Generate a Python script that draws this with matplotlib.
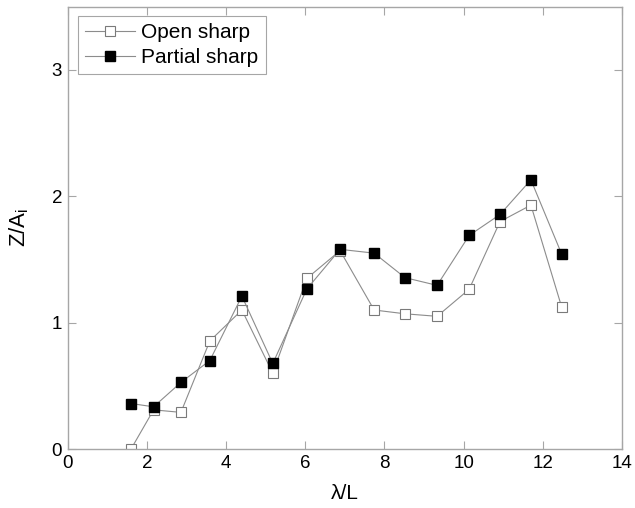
import matplotlib.pyplot as plt

plt.rcParams['font.family'] = ['Liberation Sans', 'DejaVu Sans']

# lambda/L positions
x_vals = [1.60, 2.17, 2.86, 3.59, 4.40, 5.18, 6.04, 6.88, 7.74, 8.52, 9.33, 10.14, 10.92, 11.70, 12.48]

open_sharp = [0.00, 0.31, 0.29, 0.855, 1.10, 0.60, 1.35, 1.57, 1.10, 1.07, 1.05, 1.264, 1.80, 1.93, 1.12]
partial_sharp = [0.36, 0.334, 0.527, 0.70, 1.21, 0.677, 1.266, 1.58, 1.55, 1.356, 1.295, 1.69, 1.856, 2.13, 1.54]

xticks = [0, 2, 4, 6, 8, 10, 12, 14]
yticks = [0, 1, 2, 3]

fig = plt.figure(figsize=(6.35, 5.08), dpi=100)
ax = fig.add_axes([0.1066, 0.1161, 0.8729, 0.8707])

line_col = '#8c8c8c'
ax.plot(x_vals, open_sharp, color=line_col, linewidth=0.8, marker='s', markersize=7,
        markerfacecolor='white', markeredgecolor='#7a7a7a', markeredgewidth=0.8,
        label='Open sharp')
ax.plot(x_vals, partial_sharp, color=line_col, linewidth=0.8, marker='s', markersize=7,
        markerfacecolor='black', markeredgecolor='black', label='Partial sharp')

ax.set_xlim(0, 14)
ax.set_ylim(0, 3.5)
ax.set_xticks(xticks)
ax.set_yticks(yticks)

for s in ax.spines.values():
    s.set_color('#a6a6a6')
    s.set_linewidth(1.0)
ax.tick_params(direction='in', length=6, width=0.8, color='#a6a6a6',
               top=True, right=True, labelsize=13.5, labelcolor='black', pad=4)

ax.set_xlabel('λ/L', fontsize=15, labelpad=9)
ax.set_ylabel('Z/A$_\\mathregular{i}$', fontsize=16, labelpad=15)

leg = ax.legend(loc='upper left', bbox_to_anchor=(0.018, 0.98), borderaxespad=0,
                fontsize=15, handlelength=2.4, handletextpad=0.3, borderpad=0.35,
                labelspacing=0.3, fancybox=False, framealpha=1)
leg.get_frame().set_edgecolor('#a6a6a6')
leg.get_frame().set_linewidth(0.8)

fig.savefig('out.png', dpi=100)
